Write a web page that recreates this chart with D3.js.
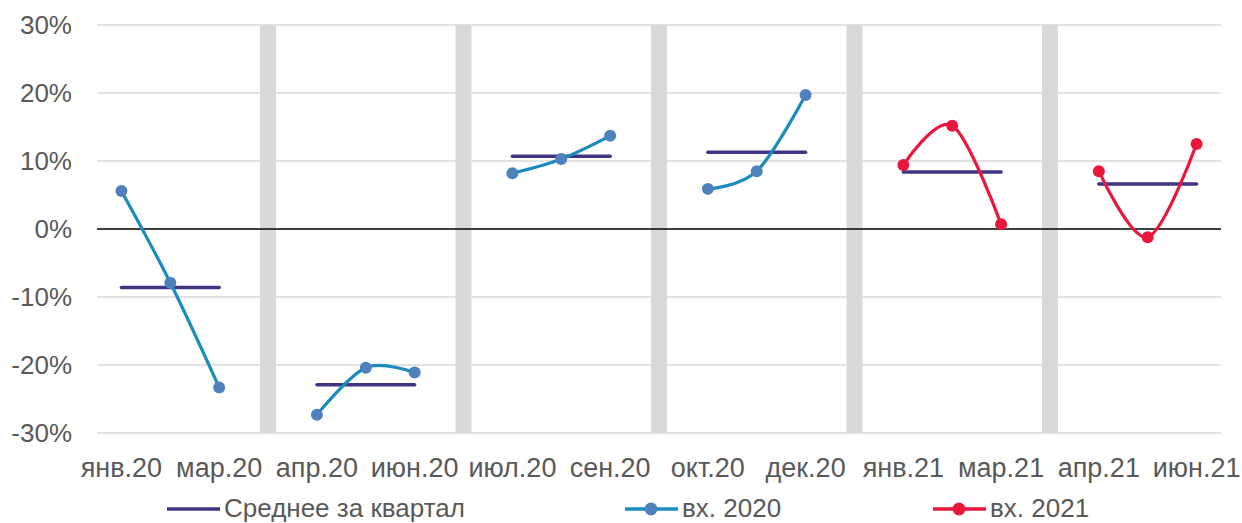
<!DOCTYPE html>
<html><head><meta charset="utf-8">
<script src="https://cdn.jsdelivr.net/npm/d3@7"></script>
<style>body{margin:0;background:#fff}svg{display:block}text{font-family:"Liberation Sans",Arial,sans-serif;fill:#595959}</style>
</head><body><svg id="c" width="1242" height="523"></svg>
<script>
const slots = ["янв.20","фев.20","мар.20","s1","апр.20","май.20","июн.20","s2","июл.20","авг.20","сен.20","s3","окт.20","ноя.20","дек.20","s4","янв.21","фев.21","мар.21","s5","апр.21","май.21","июн.21"];
const tickLabels = ["янв.20","мар.20","апр.20","июн.20","июл.20","сен.20","окт.20","дек.20","янв.21","мар.21","апр.21","июн.21"];
const separators = ["s1","s2","s3","s4","s5"];
const yTicks = [-0.3,-0.2,-0.1,0,0.1,0.2,0.3];
const months2020 = [["янв.20","фев.20","мар.20"],["апр.20","май.20","июн.20"],["июл.20","авг.20","сен.20"],["окт.20","ноя.20","дек.20"]];
const vals2020 = [[0.056,-0.079,-0.233],[-0.273,-0.204,-0.211],[0.082,0.103,0.137],[0.059,0.085,0.197]];
const months2021 = [["янв.21","фев.21","мар.21"],["апр.21","май.21","июн.21"]];
const vals2021 = [[0.094,0.152,0.007],[0.085,-0.012,0.125]];
const avgQuarters = [["янв.20","мар.20"],["апр.20","июн.20"],["июл.20","сен.20"],["окт.20","дек.20"],["янв.21","мар.21"],["апр.21","июн.21"]];
const avgValues = [-0.086,-0.229,0.107,0.113,0.084,0.066];
const legendNames = ["Среднее за квартал","вх. 2020","вх. 2021"];

const svg = d3.select("#c");
const x = d3.scaleBand().domain(slots).range([97,1221]);
const cx = d => x(d)+x.bandwidth()/2;
const y = d3.scaleLinear().domain([-0.3,0.3]).range([433,25]);
const pct = d => (d<0?"-":"") + Math.round(Math.abs(d)*100) + "%";

// gridlines
svg.append("g").selectAll("line").data(yTicks).join("line")
 .attr("x1",97).attr("x2",1221).attr("y1",d=>y(d)).attr("y2",d=>y(d))
 .attr("stroke",d=>d===0?"none":"#d9d9d9").attr("stroke-width",1.3);
// separators
svg.append("g").selectAll("rect").data(separators).join("rect")
 .attr("x",d=>cx(d)-8).attr("width",16).attr("y",y(0.3)).attr("height",y(-0.3)-y(0.3)).attr("fill","#d9d9d9");
// zero line
svg.append("line").attr("x1",97).attr("x2",1221).attr("y1",y(0)).attr("y2",y(0)).attr("stroke","#000").attr("stroke-width",1.5);

// y axis labels
svg.append("g").selectAll("text").data(yTicks).join("text")
 .attr("x",72).attr("y",d=>y(d)).attr("dy","0.36em").attr("text-anchor","end")
 .style("font-size","26px").text(pct);
// x labels
svg.append("g").selectAll("text").data(tickLabels).join("text")
 .attr("x",d=>cx(d)).attr("y",477).attr("text-anchor","middle")
 .style("font-size","27px").text(d=>d);

// averages
svg.append("g").selectAll("line").data(avgQuarters).join("line")
 .attr("x1",d=>cx(d[0])).attr("x2",d=>cx(d[1]))
 .attr("y1",(d,i)=>y(avgValues[i])).attr("y2",(d,i)=>y(avgValues[i]))
 .attr("stroke","#403582").attr("stroke-width",3.5).attr("stroke-linecap","round");

const line = d3.line().x(d=>cx(d[0])).y(d=>y(d[1])).curve(d3.curveCardinal.tension(0));
function series(months, vals, lc, mc){
  months.forEach((m,i)=>{
    const pts = m.map((k,j)=>[k,vals[i][j]]);
    svg.append("path").attr("d",line(pts)).attr("fill","none").attr("stroke",lc).attr("stroke-width",3.2).attr("stroke-linecap","round");
    svg.append("g").selectAll("circle").data(pts).join("circle")
      .attr("cx",d=>cx(d[0])).attr("cy",d=>y(d[1])).attr("r",6).attr("fill",mc);
  });
}
series(months2020, vals2020, "#1a8bbf", "#4f81bd");
series(months2021, vals2021, "#e8173b", "#e8173b");

// legend
const lg = svg.append("g");
const legendItems = [{x:167, lc:"#403582", mc:null},{x:625, lc:"#1a8bbf", mc:"#4f81bd"},{x:933, lc:"#e8173b", mc:"#e8173b"}];
legendItems.forEach((it,i)=>{
  lg.append("line").attr("x1",it.x).attr("x2",it.x+53).attr("y1",509).attr("y2",509).attr("stroke",it.lc).attr("stroke-width",3.5);
  if(it.mc) lg.append("circle").attr("cx",it.x+26).attr("cy",509).attr("r",6.5).attr("fill",it.mc);
  lg.append("text").attr("x",it.x+57).attr("y",517).style("font-size","26px").text(legendNames[i]);
});
</script></body></html>
